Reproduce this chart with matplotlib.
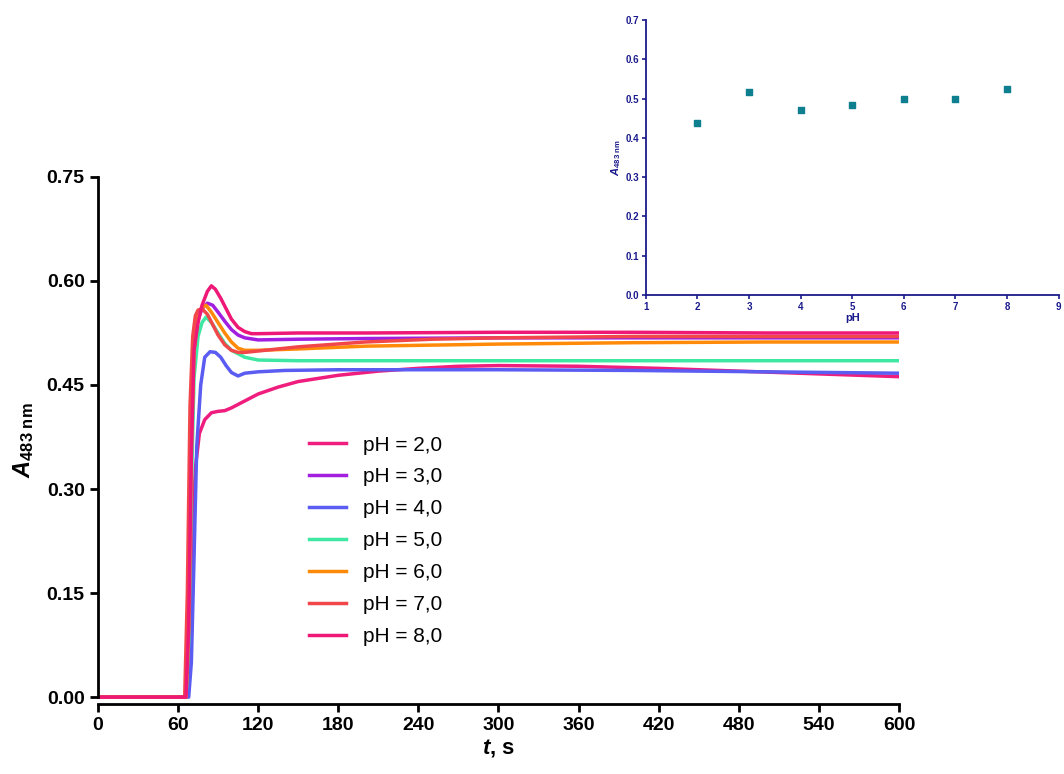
import numpy as np
import matplotlib
matplotlib.use('Agg')
import matplotlib.pyplot as plt

plt.rcParams['font.family'] = ['Liberation Sans', 'DejaVu Sans']
plt.rcParams['mathtext.fontset'] = 'custom'
plt.rcParams['mathtext.rm'] = 'Liberation Sans'
plt.rcParams['mathtext.it'] = 'Liberation Sans:italic'
plt.rcParams['mathtext.bf'] = 'Liberation Sans:bold'
plt.rcParams['mathtext.bfit'] = 'Liberation Sans:bold:italic'

# kinetic curves, values (t in s, A483)
t_ph2 = [0, 66, 68, 70, 73, 76, 80, 85, 90, 95, 100, 110, 120, 135, 150, 180, 210, 240, 270, 300, 360, 420, 480, 540, 600]
a_ph2 = [0, 0, 0.05, 0.2, 0.33, 0.38, 0.40, 0.41, 0.412, 0.413, 0.417, 0.427, 0.437, 0.447, 0.455, 0.464, 0.470, 0.474, 0.477, 0.478, 0.477, 0.474, 0.470, 0.466, 0.462]
t_ph3 = [0, 66, 68, 70, 72, 75, 78, 82, 86, 90, 95, 100, 105, 110, 120, 150, 200, 300, 400, 500, 600]
a_ph3 = [0, 0, 0.1, 0.35, 0.5, 0.545, 0.56, 0.568, 0.565, 0.555, 0.542, 0.53, 0.522, 0.518, 0.515, 0.516, 0.517, 0.518, 0.518, 0.518, 0.518]
t_ph4 = [0, 68, 70, 72, 74, 77, 80, 84, 88, 92, 96, 100, 105, 110, 120, 140, 180, 240, 300, 400, 500, 600]
a_ph4 = [0, 0, 0.05, 0.2, 0.36, 0.45, 0.49, 0.498, 0.497, 0.49, 0.478, 0.468, 0.463, 0.467, 0.469, 0.471, 0.472, 0.472, 0.472, 0.471, 0.469, 0.467]
t_ph5 = [0, 66, 68, 70, 72, 75, 78, 81, 85, 90, 95, 100, 110, 120, 150, 200, 300, 400, 500, 600]
a_ph5 = [0, 0, 0.08, 0.3, 0.46, 0.52, 0.54, 0.548, 0.54, 0.525, 0.51, 0.5, 0.49, 0.486, 0.485, 0.485, 0.485, 0.485, 0.485, 0.485]
t_ph6 = [0, 66, 68, 70, 72, 75, 78, 81, 85, 90, 95, 100, 105, 110, 120, 150, 200, 300, 400, 500, 600]
a_ph6 = [0, 0, 0.1, 0.36, 0.5, 0.548, 0.562, 0.565, 0.555, 0.54, 0.525, 0.512, 0.503, 0.5, 0.5, 0.502, 0.506, 0.509, 0.511, 0.512, 0.512]
t_ph7 = [0, 65, 67, 69, 71, 73, 75, 78, 82, 86, 90, 95, 100, 105, 110, 120, 150, 200, 250, 300, 400, 500, 600]
a_ph7 = [0, 0, 0.15, 0.42, 0.52, 0.55, 0.558, 0.56, 0.552, 0.537, 0.522, 0.508, 0.5, 0.497, 0.497, 0.499, 0.505, 0.512, 0.516, 0.518, 0.52, 0.52, 0.52]
t_ph8 = [0, 66, 68, 70, 72, 75, 78, 82, 85, 88, 92, 96, 100, 105, 110, 115, 120, 150, 200, 300, 400, 500, 600]
a_ph8 = [0, 0, 0.1, 0.35, 0.5, 0.54, 0.565, 0.585, 0.593, 0.588, 0.575, 0.56, 0.545, 0.533, 0.527, 0.524, 0.524, 0.525, 0.525, 0.526, 0.526, 0.525, 0.525]

ph_vals = [2, 3, 4, 5, 6, 7, 8]
a_final = [0.439, 0.516, 0.472, 0.483, 0.500, 0.500, 0.524]

series = [(t_ph2, a_ph2, '#ef1d7d', 'pH = 2,0'),
          (t_ph3, a_ph3, '#a21fe0', 'pH = 3,0'),
          (t_ph4, a_ph4, '#5a5cf2', 'pH = 4,0'),
          (t_ph5, a_ph5, '#3fe8a2', 'pH = 5,0'),
          (t_ph6, a_ph6, '#ff8a0a', 'pH = 6,0'),
          (t_ph7, a_ph7, '#f2474a', 'pH = 7,0'),
          (t_ph8, a_ph8, '#ee1877', 'pH = 8,0')]

fig = plt.figure(figsize=(10.64, 7.74), dpi=100)
ax = fig.add_axes([0.092, 0.0904, 0.753, 0.681])
for t, a, c, lab in series:
    ax.plot(t, a, color=c, lw=2.5, label=lab)
ax.set_xlim(0, 600)
ax.set_ylim(-0.01, 0.75)
ax.set_xticks(np.arange(0, 601, 60))
ax.set_yticks([0, 0.15, 0.30, 0.45, 0.60, 0.75])
ax.set_yticklabels(['0.00', '0.15', '0.30', '0.45', '0.60', '0.75'])
ax.spines['top'].set_visible(False)
ax.spines['right'].set_visible(False)
for s in ['left', 'bottom']:
    ax.spines[s].set_linewidth(2)
ax.spines['left'].set_bounds(0, 0.75)
ax.tick_params(width=2, length=6, labelsize=14)
for lbl in ax.get_xticklabels() + ax.get_yticklabels():
    lbl.set_fontweight('bold')
ax.set_xlabel(r'$\mathbfit{t}$, s', fontsize=16, fontweight='bold', labelpad=2)
ax.set_ylabel(r'$\mathbfit{A}_{\mathbf{483\ nm}}$', fontsize=17, labelpad=8)
ax.legend(loc='upper left', bbox_to_anchor=(0.24, 0.545), frameon=False, fontsize=15,
          handlelength=1.8, labelspacing=0.62)

ins = fig.add_axes([0.607, 0.619, 0.388, 0.355])
ins.scatter(ph_vals, a_final, marker='s', s=20, color='#0d7f8f')
ins.set_xlim(1, 9)
ins.set_ylim(0, 0.7)
ins.set_xticks(range(1, 10))
ins.set_yticks(np.arange(0, 0.71, 0.1))
ins.set_yticklabels([f'{v:.1f}' for v in np.arange(0, 0.71, 0.1)])
navy = '#1a1a8c'
ins.spines['top'].set_visible(False)
ins.spines['right'].set_visible(False)
for s in ['left', 'bottom']:
    ins.spines[s].set_linewidth(1.3)
    ins.spines[s].set_color(navy)
ins.tick_params(colors=navy, width=1.2, length=3, labelsize=7, pad=2)
for lbl in ins.get_xticklabels() + ins.get_yticklabels():
    lbl.set_fontweight('bold')
ins.set_xlabel('pH', fontsize=8, fontweight='bold', color=navy, labelpad=1)
ins.set_ylabel(r'$\mathbfit{A}_{\mathbf{483\ nm}}$', fontsize=8, color=navy, labelpad=2)

fig.savefig('out.png', dpi=100)
